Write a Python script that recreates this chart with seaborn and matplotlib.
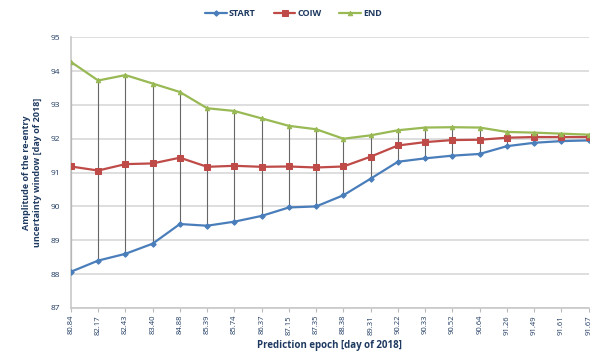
import matplotlib
matplotlib.use("Agg")
import matplotlib.pyplot as plt
import seaborn as sns
import pandas as pd

epochs = ["80.84", "82.17", "82.43", "83.40", "84.88", "85.39", "85.74", "86.37", "87.15", "87.35",
          "88.38", "89.31", "90.22", "90.33", "90.52", "90.64", "91.26", "91.49", "91.61", "91.67"]
start = [88.07, 88.40, 88.60, 88.90, 89.48, 89.43, 89.55, 89.72, 89.97, 90.00,
         90.33, 90.82, 91.32, 91.42, 91.50, 91.55, 91.78, 91.88, 91.93, 91.95]
coiw = [91.18, 91.06, 91.25, 91.27, 91.44, 91.17, 91.20, 91.17, 91.18, 91.15,
        91.18, 91.47, 91.80, 91.90, 91.96, 91.97, 92.03, 92.05, 92.05, 92.05]
end = [94.27, 93.72, 93.88, 93.63, 93.38, 92.90, 92.82, 92.60, 92.38, 92.28,
       92.00, 92.10, 92.25, 92.33, 92.34, 92.33, 92.20, 92.18, 92.15, 92.12]

sns.set_theme(style="white")
plt.rcParams["font.family"] = ["Open Sans", "DejaVu Sans"]

navy = "#1f3a60"
colors = {"START": "#4a7ebb", "COIW": "#be4b48", "END": "#98b954"}
markers = {"START": "D", "COIW": "s", "END": "^"}
sizes = {"START": 2.8, "COIW": 4.5, "END": 3.2}

df = pd.DataFrame({"epoch": epochs * 3,
                   "pos": list(range(len(epochs))) * 3,
                   "value": start + coiw + end,
                   "series": ["START"] * len(epochs) + ["COIW"] * len(epochs) + ["END"] * len(epochs)})

fig = plt.figure(figsize=(5.91, 3.54), dpi=100)
ax = fig.add_axes([0.120, 0.130, 0.876, 0.765])

for y in range(87, 96):
    ax.axhline(y, color="#d8d8d8", lw=1.2, zorder=0)

# high-low lines between START and END
ax.vlines(range(len(epochs)), start, end, color="#666666", lw=0.8, zorder=1)

for name in ["START", "COIW", "END"]:
    sub = df[df["series"] == name]
    sns.lineplot(data=sub, x="pos", y="value", ax=ax, color=colors[name], lw=1.6,
                 marker=markers[name], markersize=sizes[name], markeredgecolor=colors[name],
                 label=name, zorder=3)

ax.set_xlim(0, len(epochs) - 1)
ax.set_ylim(87, 95)
ax.set_yticks(range(87, 96))
ax.set_xticks(range(len(epochs)))
ax.set_xticklabels(epochs, rotation=90, fontsize=5.5, color=navy)
ax.tick_params(axis="y", labelsize=6, colors=navy, length=0, pad=8)
ax.tick_params(axis="x", length=3, width=0.8, color="#bbbbbb", direction="out", pad=2, bottom=True)
for s in ["top", "right"]:
    ax.spines[s].set_visible(False)
ax.spines["left"].set_color("#c8c8c8")
ax.spines["bottom"].set_color("#c8c8c8")
ax.spines["left"].set_linewidth(1.2)
ax.spines["bottom"].set_linewidth(1.2)

ax.set_xlabel("Prediction epoch [day of 2018]", fontsize=7, fontweight="bold", color=navy, labelpad=4)
ax.set_ylabel("Amplitude of the re-entry\nuncertainty window [day of 2018]", fontsize=6.5,
              fontweight="bold", color=navy, labelpad=6)

ax.legend(loc="upper center", bbox_to_anchor=(0.43, 1.135), ncol=3, frameon=False,
          handlelength=2.4, columnspacing=2.0, handletextpad=0.2,
          labelcolor=navy, prop={"weight": "bold", "size": 6.5})

fig.savefig("out.png", dpi=100)
